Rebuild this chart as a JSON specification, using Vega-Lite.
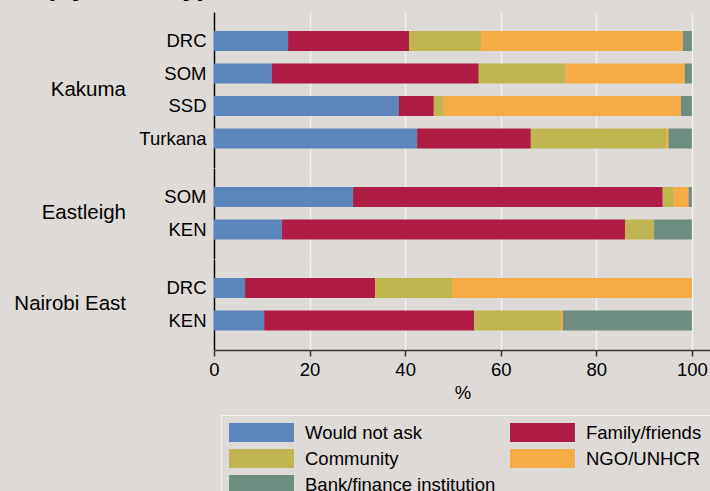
{
  "$schema": "https://vega.github.io/schema/vega-lite/v6.json",
  "background": "#dedad7",
  "padding": {"left": 14, "top": -27, "right": 0, "bottom": 0},
  "title": {"text": "(by country)", "anchor": "start", "fontSize": 28, "fontWeight": "bold", "font": "Liberation Sans", "color": "#000000", "offset": 11, "dx": 31},
  "data": {"values": [
    {"loc": "Kakuma", "grp": "DRC", "src": "Would not ask", "i": 1, "pct": 15.5},
    {"loc": "Kakuma", "grp": "DRC", "src": "Family/friends", "i": 2, "pct": 25.3},
    {"loc": "Kakuma", "grp": "DRC", "src": "Community", "i": 3, "pct": 15.1},
    {"loc": "Kakuma", "grp": "DRC", "src": "NGO/UNHCR", "i": 4, "pct": 42.2},
    {"loc": "Kakuma", "grp": "DRC", "src": "Bank/finance institution", "i": 5, "pct": 1.9},
    {"loc": "Kakuma", "grp": "SOM", "src": "Would not ask", "i": 1, "pct": 12.1},
    {"loc": "Kakuma", "grp": "SOM", "src": "Family/friends", "i": 2, "pct": 43.3},
    {"loc": "Kakuma", "grp": "SOM", "src": "Community", "i": 3, "pct": 18.2},
    {"loc": "Kakuma", "grp": "SOM", "src": "NGO/UNHCR", "i": 4, "pct": 24.9},
    {"loc": "Kakuma", "grp": "SOM", "src": "Bank/finance institution", "i": 5, "pct": 1.5},
    {"loc": "Kakuma", "grp": "SSD", "src": "Would not ask", "i": 1, "pct": 38.7},
    {"loc": "Kakuma", "grp": "SSD", "src": "Family/friends", "i": 2, "pct": 7.3},
    {"loc": "Kakuma", "grp": "SSD", "src": "Community", "i": 3, "pct": 2.1},
    {"loc": "Kakuma", "grp": "SSD", "src": "NGO/UNHCR", "i": 4, "pct": 49.6},
    {"loc": "Kakuma", "grp": "SSD", "src": "Bank/finance institution", "i": 5, "pct": 2.3},
    {"loc": "Kakuma", "grp": "Turkana", "src": "Would not ask", "i": 1, "pct": 42.5},
    {"loc": "Kakuma", "grp": "Turkana", "src": "Family/friends", "i": 2, "pct": 23.8},
    {"loc": "Kakuma", "grp": "Turkana", "src": "Community", "i": 3, "pct": 28.3},
    {"loc": "Kakuma", "grp": "Turkana", "src": "NGO/UNHCR", "i": 4, "pct": 0.5},
    {"loc": "Kakuma", "grp": "Turkana", "src": "Bank/finance institution", "i": 5, "pct": 4.9},
    {"loc": "Eastleigh", "grp": "SOM", "src": "Would not ask", "i": 1, "pct": 29.1},
    {"loc": "Eastleigh", "grp": "SOM", "src": "Family/friends", "i": 2, "pct": 64.8},
    {"loc": "Eastleigh", "grp": "SOM", "src": "Community", "i": 3, "pct": 2.3},
    {"loc": "Eastleigh", "grp": "SOM", "src": "NGO/UNHCR", "i": 4, "pct": 3.1},
    {"loc": "Eastleigh", "grp": "SOM", "src": "Bank/finance institution", "i": 5, "pct": 0.7},
    {"loc": "Eastleigh", "grp": "KEN", "src": "Would not ask", "i": 1, "pct": 14.2},
    {"loc": "Eastleigh", "grp": "KEN", "src": "Family/friends", "i": 2, "pct": 71.8},
    {"loc": "Eastleigh", "grp": "KEN", "src": "Community", "i": 3, "pct": 6.1},
    {"loc": "Eastleigh", "grp": "KEN", "src": "NGO/UNHCR", "i": 4, "pct": 0},
    {"loc": "Eastleigh", "grp": "KEN", "src": "Bank/finance institution", "i": 5, "pct": 7.9},
    {"loc": "Nairobi East", "grp": "DRC", "src": "Would not ask", "i": 1, "pct": 6.5},
    {"loc": "Nairobi East", "grp": "DRC", "src": "Family/friends", "i": 2, "pct": 27.2},
    {"loc": "Nairobi East", "grp": "DRC", "src": "Community", "i": 3, "pct": 16.1},
    {"loc": "Nairobi East", "grp": "DRC", "src": "NGO/UNHCR", "i": 4, "pct": 50.2},
    {"loc": "Nairobi East", "grp": "DRC", "src": "Bank/finance institution", "i": 5, "pct": 0},
    {"loc": "Nairobi East", "grp": "KEN", "src": "Would not ask", "i": 1, "pct": 10.5},
    {"loc": "Nairobi East", "grp": "KEN", "src": "Family/friends", "i": 2, "pct": 43.9},
    {"loc": "Nairobi East", "grp": "KEN", "src": "Community", "i": 3, "pct": 18.2},
    {"loc": "Nairobi East", "grp": "KEN", "src": "NGO/UNHCR", "i": 4, "pct": 0.4},
    {"loc": "Nairobi East", "grp": "KEN", "src": "Bank/finance institution", "i": 5, "pct": 27.0}
  ]},
  "facet": {
    "row": {
      "field": "loc", "type": "nominal",
      "sort": ["Kakuma", "Eastleigh", "Nairobi East"],
      "header": {"title": null, "labelAngle": 0, "labelAlign": "left", "labelFontSize": 20.5, "labelFont": "Liberation Sans", "labelColor": "#000000", "labelPadding": 12}
    }
  },
  "spacing": 0,
  "resolve": {"scale": {"y": "independent"}},
  "spec": {
    "width": 497,
    "height": {"step": 32.5},
    "mark": {"type": "bar"},
    "encoding": {
      "y": {
        "field": "grp", "type": "nominal", "sort": null,
        "scale": {"paddingInner": 0.385, "paddingOuter": 0.585},
        "axis": {"title": null, "ticks": false, "grid": false, "domainColor": "#000000", "domainWidth": 1.5, "labelPadding": 8, "labelFontSize": 18.5, "labelFont": "Liberation Sans", "labelColor": "#000000"}
      },
      "x": {
        "field": "pct", "type": "quantitative", "stack": "zero",
        "scale": {"domain": [0, 104], "nice": false},
        "axis": {"values": [0, 20, 40, 60, 80, 100], "title": "%", "grid": true, "gridColor": "#eef2f2", "gridWidth": 1.5, "domainColor": "#333333", "domainWidth": 1.5, "tickColor": "#333333", "tickSize": 6, "tickWidth": 1.5, "labelPadding": 4, "labelFlush": false, "labelFontSize": 18.5, "labelFont": "Liberation Sans", "labelColor": "#000000", "titleFontSize": 18.5, "titleFont": "Liberation Sans", "titleFontWeight": "normal", "titleColor": "#000000", "titlePadding": 5}
      },
      "color": {
        "field": "src", "type": "nominal",
        "scale": {
          "domain": ["Would not ask", "Community", "Bank/finance institution", "Family/friends", "NGO/UNHCR"],
          "range": ["#5b85bb", "#c0b551", "#6d8d81", "#ae1c45", "#f6ac46"]
        },
        "legend": {
          "orient": "none", "legendX": 7, "legendY": 403, "columns": 2, "title": null,
          "symbolType": "M-1,-1H5.84V1H-1Z", "symbolSize": 361, "symbolStrokeWidth": 0, "symbolOpacity": 1,
          "labelFontSize": 18.5, "labelFont": "Liberation Sans", "labelColor": "#000000", "labelOffset": 57, "labelLimit": 300,
          "rowPadding": 7, "columnPadding": 14, "padding": 8,
          "strokeColor": "#eef3f3", "fillColor": "#dedad7"
        }
      },
      "order": {"field": "i", "type": "quantitative"}
    }
  },
  "config": {"view": {"stroke": null}}
}
